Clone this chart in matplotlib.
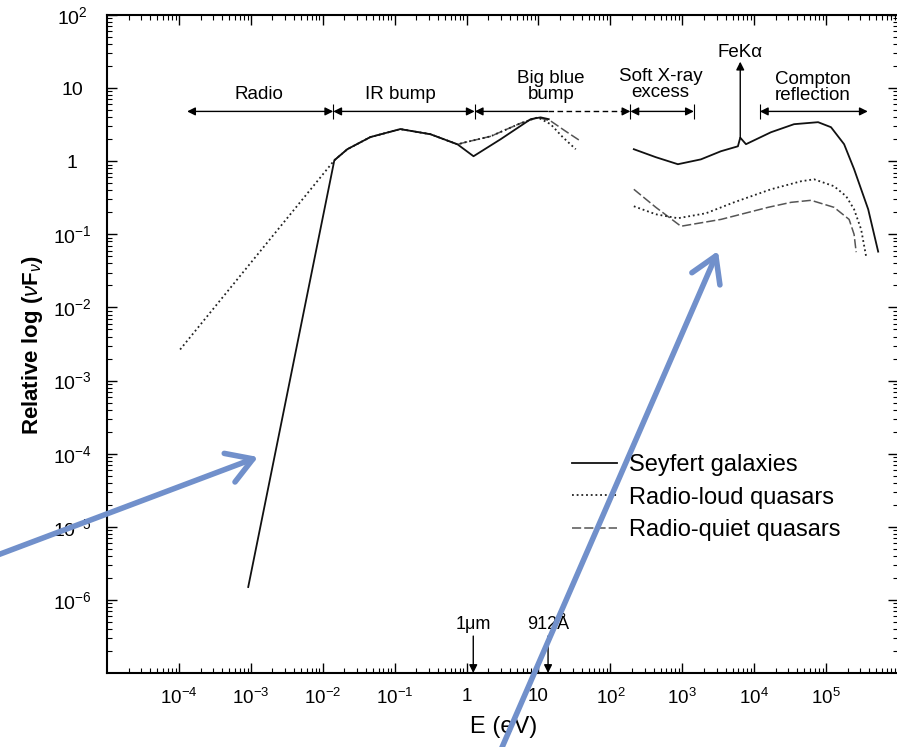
import matplotlib
matplotlib.use("Agg")
import matplotlib.pyplot as plt

plt.rcParams['font.family'] = ['Liberation Sans', 'DejaVu Sans']
plt.rcParams['mathtext.fontset'] = 'custom'
plt.rcParams['mathtext.rm'] = 'Liberation Sans'
plt.rcParams['mathtext.it'] = 'Liberation Sans:italic'
plt.rcParams['mathtext.bf'] = 'Liberation Sans:bold'

# --- spectral energy distributions (E in eV, relative nuFnu) ---
# Seyfert galaxies, radio to optical/UV
sey_ir_e = [9.2e-4, 0.0145, 0.022, 0.046, 0.12, 0.315, 0.75, 1.25, 2.98, 7.8, 10.7, 13.9]
sey_ir_f = [1.5e-6, 1.03, 1.46, 2.14, 2.75, 2.34, 1.70, 1.17, 2.0, 3.76, 3.98, 3.76]
# Seyfert galaxies, X-ray (with the FeKa line)
sey_x_e = [212, 429, 869, 1815, 3450, 5940, 6400, 7690, 1.71e4, 3.58e4, 7.74e4,
           1.17e5, 1.78e5, 2.45e5, 3.85e5, 5.3e5]
sey_x_f = [1.46, 1.135, 0.91, 1.06, 1.37, 1.60, 2.1, 1.71, 2.49, 3.21, 3.42,
           2.92, 1.71, 0.78, 0.22, 0.058]

# radio-loud quasars
rl_ir_e = [1.04e-4, 0.0145, 0.022, 0.046, 0.12, 0.315, 0.75, 0.97, 2.16, 5.65, 9.8,
           14.8, 21.7, 33.0]
rl_ir_f = [2.66e-3, 1.03, 1.46, 2.14, 2.75, 2.34, 1.70, 1.82, 2.19, 3.31, 3.98,
           3.2, 2.14, 1.46]
rl_x_e = [212, 429, 869, 2130, 5240, 1.71e4, 4.49e4, 6.8e4, 1.29e5, 1.9e5, 2.45e5,
          3.07e5, 3.6e5]
rl_x_f = [0.242, 0.188, 0.166, 0.194, 0.274, 0.413, 0.532, 0.566, 0.455, 0.332, 0.22,
          0.117, 0.05]

# radio-quiet quasars
rq_ir_e = [0.0145, 0.022, 0.046, 0.12, 0.315, 0.75, 0.97, 2.16, 5.65, 9.8, 14.8,
           23.9, 38.7]
rq_ir_f = [1.03, 1.46, 2.14, 2.75, 2.34, 1.70, 1.82, 2.19, 3.31, 3.98, 3.55,
           2.57, 1.88]
rq_x_e = [212, 429, 958, 3450, 1.56e4, 3.26e4, 6.18e4, 1.29e5, 2.09e5, 2.45e5, 2.62e5]
rq_x_f = [0.413, 0.234, 0.129, 0.16, 0.234, 0.274, 0.292, 0.234, 0.16, 0.1, 0.057]

series_labels = ['Seyfert galaxies', 'Radio-loud quasars', 'Radio-quiet quasars']

# spectral regions along the top
band_edges = [1.3e-4, 1.4e-2, 1.3, 190, 1.45e3, 1.2e4, 3.8e5]
band_y = 4.8
bbb_solid_end = 13.4
band_names = ['Radio', 'IR bump', 'Big blue\nbump', 'Soft X-ray\nexcess', 'Compton\nreflection']
band_label_e = [0.0013, 0.12, 14.8, 500, 6.6e4]
band_label_y = [8.3, 8.3, 10.6, 11.2, 10.2]

feka_e = 6400
feka_f = (2.1, 23)
marker_e = [1.24, 13.6]
marker_names = ['1\u03bcm', '912\u00c5']

x_ticks = [1e-4, 1e-3, 1e-2, 1e-1, 1, 10, 1e2, 1e3, 1e4, 1e5]
x_tick_labels = [r'$10^{-4}$', r'$10^{-3}$', r'$10^{-2}$', r'$10^{-1}$', '1', '10',
                 r'$10^{2}$', r'$10^{3}$', r'$10^{4}$', r'$10^{5}$']
y_ticks = [1e-6, 1e-5, 1e-4, 1e-3, 1e-2, 1e-1, 1, 10, 1e2]
y_tick_labels = [r'$10^{-6}$', r'$10^{-5}$', r'$10^{-4}$', r'$10^{-3}$', r'$10^{-2}$',
                 r'$10^{-1}$', '1', '10', r'$10^{2}$']

W, H = 897, 747
fig = plt.figure(figsize=(W / 100, H / 100), dpi=100)
ax = fig.add_axes([107 / W, 74 / H, (898 - 107) / W, 658 / H])
ax.set_xscale('log')
ax.set_yscale('log')
ax.set_xlim(1e-5, 1e6)
ax.set_ylim(1e-7, 1e2)

sey_style = dict(color='#111111', lw=1.3, ls='-')
rl_style = dict(color='#222222', lw=1.3, ls=(0, (1, 1.6)))
rq_style = dict(color='#555555', lw=1.1, ls=(0, (6, 2)))

ax.plot(rq_ir_e, rq_ir_f, **rq_style)
ax.plot(rq_x_e, rq_x_f, **rq_style, label=series_labels[2])
ax.plot(rl_ir_e, rl_ir_f, **rl_style)
ax.plot(rl_x_e, rl_x_f, **rl_style, label=series_labels[1])
ax.plot(sey_ir_e, sey_ir_f, **sey_style, label=series_labels[0])
ax.plot(sey_x_e, sey_x_f, **sey_style)

# region arrows
head = dict(arrowstyle='<|-|>', color='black', lw=1.0, mutation_scale=12,
            shrinkA=0, shrinkB=0)
for i in [0, 1, 3]:
    ax.annotate('', xy=(band_edges[i + 1], band_y), xytext=(band_edges[i], band_y),
                arrowprops=head)
ax.annotate('', xy=(band_edges[6], band_y), xytext=(band_edges[5], band_y), arrowprops=head)
ax.annotate('', xy=(band_edges[2], band_y), xytext=(bbb_solid_end, band_y),
            arrowprops=dict(head, arrowstyle='-|>'))
ax.plot([bbb_solid_end, band_edges[3] * 0.85], [band_y, band_y], color='black', lw=1.0,
        ls=(0, (4, 2.5)))
ax.annotate('', xy=(band_edges[3], band_y), xytext=(band_edges[3] * 0.85, band_y),
            arrowprops=dict(head, arrowstyle='-|>'))
ax.vlines([band_edges[1], band_edges[2], band_edges[3], band_edges[4], band_edges[5]],
          band_y * 0.78, band_y * 1.28, color='black', lw=0.8)
for name, xe, ye in zip(band_names, band_label_e, band_label_y):
    ax.text(xe, ye, name, ha='center', va='center', fontsize=13.5, linespacing=0.9)

ax.annotate('', xy=(feka_e, feka_f[1]), xytext=(feka_e, feka_f[0]),
            arrowprops=dict(head, arrowstyle='-|>'))
ax.text(feka_e, feka_f[1] * 1.02, 'FeK\u03b1', ha='center', va='bottom', fontsize=13.5)

for xe, name in zip(marker_e, marker_names):
    ax.annotate('', xy=(xe, 1e-7), xytext=(xe, 3.2e-7),
                arrowprops=dict(head, arrowstyle='-|>'))
    ax.text(xe, 3.5e-7, name, ha='center', va='bottom', fontsize=13)

ax.set_xticks(x_ticks)
ax.set_xticklabels(x_tick_labels)
ax.set_yticks(y_ticks)
ax.set_yticklabels(y_tick_labels, ha='center')
ax.xaxis.set_minor_locator(matplotlib.ticker.LogLocator(base=10, subs=range(2, 10), numticks=20))
ax.yaxis.set_minor_locator(matplotlib.ticker.LogLocator(base=10, subs=range(2, 10), numticks=20))
ax.xaxis.set_minor_formatter(matplotlib.ticker.NullFormatter())
ax.yaxis.set_minor_formatter(matplotlib.ticker.NullFormatter())
ax.tick_params(which='both', direction='in', top=True, right=True)
ax.tick_params(which='major', length=7.5, width=1.0)
ax.tick_params(which='minor', length=3.5, width=0.8)
ax.tick_params(axis='x', pad=11, labelsize=13.5)
ax.tick_params(axis='y', pad=25, labelsize=14)
for s in ax.spines.values():
    s.set_linewidth(1.5)

ax.set_xlabel('E (eV)', fontsize=17)
ax.xaxis.set_label_coords((504 - 107) / 791, -(716 - 673) / 658)
ax.set_ylabel(r'Relative log ($\nu$F$_{\nu}$)', fontsize=16, fontweight='bold')
ax.yaxis.set_label_coords(-(107 - 45) / 791, (673 - 345) / 658)

handles, labels = ax.get_legend_handles_labels()
order = [labels.index(l) for l in series_labels]
ax.legend([handles[i] for i in order], [labels[i] for i in order], loc='upper left',
          bbox_to_anchor=((572 - 107) / 791, (673 - 454) / 658), frameon=False,
          fontsize=17, handlelength=1.9, handletextpad=0.5, labelspacing=0.45,
          borderpad=0, borderaxespad=0)

# highlight arrows over the figure
blue = '#7190cb'
arrow_kw = dict(arrowstyle='->,head_length=0.9,head_width=0.55', color=blue, lw=4,
                mutation_scale=20, shrinkA=0, shrinkB=0)
fig.patches.append(matplotlib.patches.FancyArrowPatch((-5, H - 556), (258, H - 457),
                                                      transform=None, **arrow_kw))
fig.patches.append(matplotlib.patches.FancyArrowPatch((500, -5), (718, H - 251),
                                                      transform=None, **arrow_kw))

fig.savefig('out.png', dpi=100)
